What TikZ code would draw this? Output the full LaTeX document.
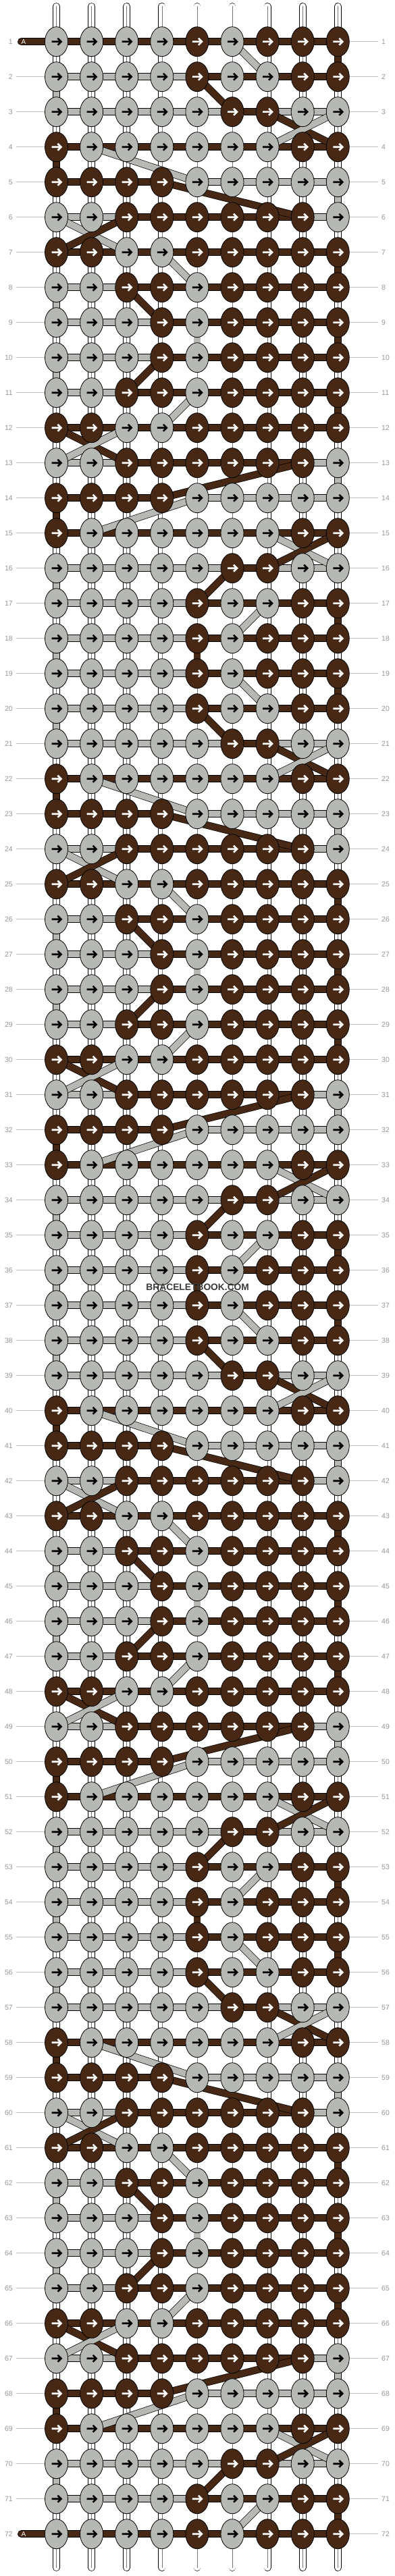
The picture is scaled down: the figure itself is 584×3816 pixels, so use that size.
\documentclass[tikz,border=0pt]{standalone}
\usepackage{fontspec}
\setmainfont{Liberation Sans}
\usetikzlibrary{shapes.geometric,backgrounds}
\definecolor{brw}{RGB}{71,40,21}
\definecolor{gry}{RGB}{182,184,180}
\definecolor{labgray}{RGB}{150,150,150}
\definecolor{lineg}{RGB}{192,192,192}
\definecolor{midg}{RGB}{120,120,120}
\definecolor{wmark}{RGB}{58,58,58}
\tikzset{
  knot/.style={ellipse, draw=black, line width=0.8pt, minimum width=34pt, minimum height=44pt, inner sep=0pt},
  band/.style={draw=black, line width=0.7pt, double distance=9.4pt},
  wband/.style={draw=black, line width=0.7pt, double=white, double distance=9.4pt},
  midline/.style={draw=midg, line width=0.5pt},
  lab/.style={text=labgray, font=\fontsize{10.5}{12}\selectfont, inner sep=2pt},
  labline/.style={draw=lineg, line width=0.9pt},
}
\newcommand\KnotRow[2]{%
  \pgfmathtruncatemacro\r{\p*18+#1}%
  \pgfmathsetmacro\yy{61.7+(\r-1)*52}%
  \ifodd\r\relax\def\adir{1}\else\def\adir{-1}\fi
  \foreach \k [count=\c] in {#2}{%
    \pgfmathsetmacro\xx{83.5+(\c-1)*52.1}%
    \ifnum\k=1 \def\kfill{brw}\def\ktxt{white}\else\def\kfill{gry}\def\ktxt{black}\fi
    \node[knot, fill=\kfill, path picture={\draw[draw=\ktxt, line width=2.6pt, shift={(path picture bounding box.center)}, xscale=\adir] (-7,0) -- (6.2,0) (2,-5) -- (7,0) -- (2,5);}] (k-\r-\c) at (\xx,\yy) {};
  }%
  \node[lab, anchor=east] (lL-\r) at (21,\yy) {\r};
  \node[lab, anchor=west] (lR-\r) at (563,\yy) {\r};
}
\newcommand\BarRow[2]{%
  \pgfmathtruncatemacro\r{\p*18+#1}%
  \foreach \h [count=\c] in {#2}{%
    \pgfmathtruncatemacro\cn{\c+1}%
    \edef\hh{\h}%
    \ifnum\r=1 \def\hh{1}\fi
    \ifnum\r=72 \def\hh{1}\fi
    \ifnum\hh=1 \draw[band, double=brw] (k-\r-\c.center) -- (k-\r-\cn.center);\fi
    \ifnum\hh=2 \draw[band, double=gry] (k-\r-\c.center) -- (k-\r-\cn.center);\fi
  }%
}
\newcommand\VertRow[2]{%
  \pgfmathtruncatemacro\r{\p*18+#1}%
  \pgfmathtruncatemacro\rn{\r+1}%
  \ifnum\r<72
    \foreach \v [count=\c] in {#2}{%
      \ifnum\v=0 \draw[wband] (k-\r-\c.center) -- (k-\rn-\c.center);
        \draw[midline] (k-\r-\c.center) -- (k-\rn-\c.center);\fi
      \ifnum\v=1 \draw[band, double=brw] (k-\r-\c.center) -- (k-\rn-\c.center);\fi
      \ifnum\v=2 \draw[band, double=gry] (k-\r-\c.center) -- (k-\rn-\c.center);\fi
    }%
  \fi
}
\newcommand\DiagLink[5]{%
  \pgfmathtruncatemacro\ra{\p*18+#2}%
  \pgfmathtruncatemacro\rb{\p*18+#4}%
  \draw[band, double=#1] (k-\ra-#3.center) -- (k-\rb-#5.center);%
}
\begin{document}
\begin{tikzpicture}[x=1pt,y=-1pt]
\useasboundingbox (0,0) rectangle (584,3816);
\foreach \p in {0,1,2,3}{
  \KnotRow{1}{0,0,0,0,1,0,1,1,1}
  \KnotRow{2}{0,0,0,0,1,0,0,1,1}
  \KnotRow{3}{0,0,0,0,0,1,1,0,0}
  \KnotRow{4}{1,0,0,0,0,0,0,1,1}
  \KnotRow{5}{1,1,1,1,0,0,0,0,0}
  \KnotRow{6}{0,0,1,1,1,1,1,1,0}
  \KnotRow{7}{1,1,0,0,1,1,1,1,1}
  \KnotRow{8}{0,0,1,1,0,1,1,1,1}
  \KnotRow{9}{0,0,0,1,0,1,1,1,1}
  \KnotRow{10}{0,0,0,1,0,1,1,1,1}
  \KnotRow{11}{0,0,1,1,0,1,1,1,1}
  \KnotRow{12}{1,1,0,0,1,1,1,1,1}
  \KnotRow{13}{0,0,1,1,1,1,1,1,0}
  \KnotRow{14}{1,1,1,1,0,0,0,0,0}
  \KnotRow{15}{1,0,0,0,0,0,0,1,1}
  \KnotRow{16}{0,0,0,0,0,1,1,0,0}
  \KnotRow{17}{0,0,0,0,1,0,0,1,1}
  \KnotRow{18}{0,0,0,0,1,0,1,1,1}
}
\begin{scope}[on background layer]
\fill[white] (0,0) rectangle (584,3816);
\foreach \c in {1,...,9}{
  \pgfmathsetmacro\xx{83.5+(\c-1)*52.1}
  \coordinate (top-\c) at (\xx,9.5);
  \coordinate (bot-\c) at (\xx,3803.5);
  \draw[wband, line cap=round] (top-\c) -- (k-1-\c.center);
  \draw[midline] (top-\c) -- (k-1-\c.center);
  \draw[wband, line cap=round] (k-72-\c.center) -- (bot-\c);
  \draw[midline] (k-72-\c.center) -- (bot-\c);
}
\foreach \r in {1,...,72}{
  \ifnum\r=1\else\ifnum\r=72\else \draw[labline, shorten <=3pt] (lL-\r.east) -- (k-\r-1.west);\fi\fi
  \draw[labline, shorten >=3pt] (k-\r-9.east) -- (lR-\r.west);
}
\foreach \p in {0,1,2,3}{
  \VertRow{1}{0,0,0,0,0,0,0,0,1}
  \VertRow{2}{2,0,0,0,0,0,0,0,0}
  \VertRow{3}{0,0,0,0,0,0,0,0,0}
  \VertRow{4}{1,0,0,0,0,0,0,0,0}
  \VertRow{5}{0,0,0,0,0,0,0,0,2}
  \VertRow{6}{0,0,0,0,0,0,0,0,0}
  \VertRow{7}{0,0,0,0,0,0,0,0,1}
  \VertRow{8}{2,0,0,0,0,0,0,0,0}
  \VertRow{9}{0,0,0,0,2,0,0,0,1}
  \VertRow{10}{2,0,0,0,0,0,0,0,0}
  \VertRow{11}{0,0,0,0,0,0,0,0,1}
  \VertRow{12}{0,0,0,0,0,0,0,0,0}
  \VertRow{13}{0,0,0,0,0,0,0,0,2}
  \VertRow{14}{1,0,0,0,0,0,0,0,0}
  \VertRow{15}{0,0,0,0,0,0,0,0,0}
  \VertRow{16}{2,0,0,0,0,0,0,0,0}
  \VertRow{17}{0,0,0,0,0,0,0,0,1}
  \VertRow{18}{2,0,0,0,1,0,0,0,0}
}
\foreach \p in {0,1,2,3}{
  \BarRow{1}{2,2,2,2,1,1,1,1}
  \BarRow{2}{2,2,2,2,1,1,1,1}
  \BarRow{3}{2,2,2,2,2,1,2,2}
  \BarRow{4}{1,1,1,1,1,1,1,1}
  \BarRow{5}{1,1,1,0,2,2,2,2}
  \BarRow{6}{2,2,1,1,1,1,1,2}
  \BarRow{7}{1,1,1,1,1,1,1,1}
  \BarRow{8}{2,2,1,1,1,1,1,1}
  \BarRow{9}{2,2,2,1,1,1,1,1}
  \BarRow{10}{2,2,2,1,1,1,1,1}
  \BarRow{11}{2,2,1,1,1,1,1,1}
  \BarRow{12}{1,1,1,1,1,1,1,1}
  \BarRow{13}{2,2,1,1,1,1,1,2}
  \BarRow{14}{1,1,1,0,2,2,2,2}
  \BarRow{15}{1,1,1,1,1,1,1,1}
  \BarRow{16}{2,2,2,2,2,1,2,2}
  \BarRow{17}{2,2,2,2,1,1,1,1}
  \BarRow{18}{2,2,2,2,1,1,1,1}
}
\coordinate (lead-1) at (31.5,61.7);
\coordinate (lead-72) at (31.5,3753.7);
\draw[band, double=brw, line cap=round] (lead-1) -- (k-1-1.center);
\draw[band, double=brw, line cap=round] (lead-72) -- (k-72-1.center);
\foreach \p in {0,1,2,3}{
  \DiagLink{gry}{1}{6}{2}{7}
  \DiagLink{brw}{2}{5}{3}{6}
  \DiagLink{brw}{3}{7}{4}{9}
  \DiagLink{gry}{3}{9}{4}{7}
  \DiagLink{gry}{4}{2}{5}{5}
  \DiagLink{brw}{5}{4}{6}{8}
  \DiagLink{gry}{6}{1}{7}{3}
  \DiagLink{brw}{6}{3}{7}{1}
  \DiagLink{gry}{7}{4}{8}{5}
  \DiagLink{brw}{8}{3}{9}{4}
  \DiagLink{brw}{10}{4}{11}{3}
  \DiagLink{gry}{11}{5}{12}{4}
  \DiagLink{brw}{12}{1}{13}{3}
  \DiagLink{gry}{12}{3}{13}{1}
  \DiagLink{brw}{13}{8}{14}{4}
  \DiagLink{gry}{14}{5}{15}{2}
  \DiagLink{gry}{15}{7}{16}{9}
  \DiagLink{brw}{15}{9}{16}{7}
  \DiagLink{brw}{16}{6}{17}{5}
  \DiagLink{gry}{17}{7}{18}{6}
}
\end{scope}
\node[text=white, font=\fontsize{10}{12}\selectfont, inner sep=0pt] (A-1) at (35,62) {A};
\node[text=white, font=\fontsize{10}{12}\selectfont, inner sep=0pt] (A-72) at (35,3754) {A};
\node[text=wmark, font=\bfseries\fontsize{13.8}{15}\selectfont, inner sep=0pt] (wm) at (292.7,1907) {BRACELETBOOK.COM};
\end{tikzpicture}
\end{document}
